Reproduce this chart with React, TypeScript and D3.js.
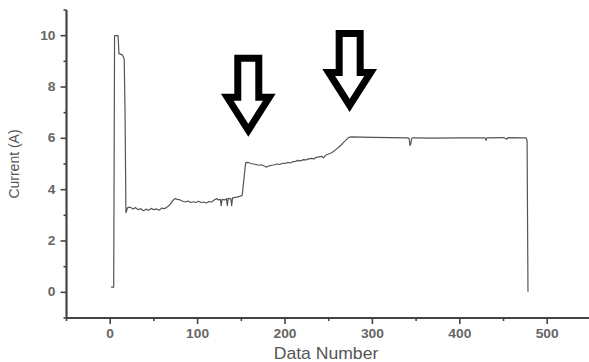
import React from "react";
import { scaleLinear, line, range } from "d3";

// measured trace (data number vs current)
const dataNumber = [
  1, 4, 5, 9, 10, 14, 16, 17, 18, 20, 23, 26, 29, 32, 35, 38, 41, 44, 47, 50,
  53, 56, 59, 62, 65, 68, 71, 74, 77, 80, 83, 86, 89, 92, 95, 98, 101, 104, 107, 110,
  113, 116, 119, 122, 124, 126, 127, 128, 131, 133, 134, 135, 138, 139, 140, 143, 146, 149, 151, 155,
  158, 161, 164, 167, 170, 173, 176, 179, 182, 185, 188, 191, 194, 197, 200, 203, 206, 209, 212, 215,
  218, 221, 224, 227, 230, 233, 236, 239, 242, 244, 246, 249, 252, 255, 258, 261, 264, 267, 270, 273,
  276, 300, 320, 340, 342, 343, 344, 345, 346, 370, 400, 429, 430, 431, 450, 454, 455, 470, 476, 477,
  478,
];
const current = [
  0.2, 0.2, 10.0, 10.0, 9.3, 9.25, 9.1, 7.0, 3.1, 3.3, 3.32, 3.25, 3.3, 3.22, 3.26, 3.18, 3.24, 3.2, 3.27, 3.22,
  3.25, 3.2, 3.28, 3.26, 3.32, 3.4, 3.55, 3.65, 3.62, 3.6, 3.55, 3.52, 3.56, 3.5, 3.53, 3.5, 3.55, 3.5, 3.52, 3.48,
  3.54, 3.52, 3.6, 3.65, 3.6, 3.62, 3.38, 3.62, 3.6, 3.65, 3.38, 3.66, 3.64, 3.38, 3.68, 3.7, 3.72, 3.75, 3.78, 5.05,
  5.06, 5.02, 5.0, 4.98, 4.95, 4.97, 4.92, 4.88, 4.93, 4.95, 4.97, 5.0, 4.98, 5.03, 5.02, 5.06, 5.04, 5.09, 5.1, 5.14,
  5.12, 5.17, 5.16, 5.2, 5.22, 5.2, 5.26, 5.28, 5.3, 5.24, 5.33, 5.38, 5.42, 5.48, 5.56, 5.64, 5.73, 5.84, 5.94, 6.04,
  6.06, 6.04, 6.03, 6.02, 6.0, 5.72, 5.8, 6.0, 6.02, 6.01, 6.02, 6.02, 5.92, 6.02, 6.03, 5.97, 6.03, 6.02, 6.02, 5.9,
  0.02,
];

const xTickLabels = [0, 100, 200, 300, 400, 500];
const yTickLabels = [0, 2, 4, 6, 8, 10];
const xMinorTicks = [-50, 50, 150, 250, 350, 450, 550];
const yMinorTicks = [-1, 1, 3, 5, 7, 9, 11];

// arrow tips in data coordinates
const arrowTipX = [158, 274];
const arrowTipY = [6.08, 7.05];

const W = 589;
const H = 362;
const axisColor = "#444";
const textColor = "#555";

export default function App() {
  const x = scaleLinear().domain([-50, 550]).range([66.5, 590.9]);
  const y = scaleLinear().domain([-1, 11]).range([318, 10]);

  const pts = dataNumber.map((d, i) => [d, current[i]] as [number, number]);
  const path = line<[number, number]>()
    .x((d) => x(d[0]))
    .y((d) => y(d[1]))(pts);

  const arrowShape =
    "M0,-6 L21,-39 L10.5,-39 L10.5,-78 L-10.5,-78 L-10.5,-39 L-21,-39 Z";

  return (
    <svg
      width={W}
      height={H}
      style={{ position: "absolute", left: 0, top: 0, background: "#fff" }}
      fontFamily="'Liberation Sans', Arial, sans-serif"
    >
      <rect width={W} height={H} fill="#fff" />

      {/* y axis */}
      <line x1={x(-50)} x2={x(-50)} y1={y(11)} y2={y(-1)} stroke={axisColor} strokeWidth={2.2} />
      {yTickLabels.map((t) => (
        <g key={"yt" + t}>
          <line x1={x(-50) - 6} x2={x(-50)} y1={y(t)} y2={y(t)} stroke={axisColor} strokeWidth={1.6} />
          <text
            transform={`translate(${x(-50) - 11},${y(t) + 4}) scale(1.15,1)`}
            textAnchor="end"
            fontSize={12}
            fontWeight="bold"
            fill="#666"
          >
            {t}
          </text>
        </g>
      ))}
      {yMinorTicks.map((t) => (
        <line key={"ym" + t} x1={x(-50) - 3} x2={x(-50)} y1={y(t)} y2={y(t)} stroke={axisColor} strokeWidth={1.6} />
      ))}

      {/* x axis */}
      <line x1={x(-50)} x2={W} y1={y(-1)} y2={y(-1)} stroke={axisColor} strokeWidth={2.2} />
      {xTickLabels.map((t) => (
        <g key={"xt" + t}>
          <line x1={x(t)} x2={x(t)} y1={y(-1)} y2={y(-1) + 6} stroke={axisColor} strokeWidth={1.6} />
          <text
            transform={`translate(${x(t)},${y(-1) + 20}) scale(1.15,1)`}
            textAnchor="middle"
            fontSize={12}
            fontWeight="bold"
            fill="#666"
          >
            {t}
          </text>
        </g>
      ))}
      {xMinorTicks.map((t) => (
        <line key={"xm" + t} x1={x(t)} x2={x(t)} y1={y(-1)} y2={y(-1) + 3} stroke={axisColor} strokeWidth={1.6} />
      ))}

      {/* axis titles */}
      <text
        transform={`translate(19,${y(5)}) rotate(-90)`}
        textAnchor="middle"
        fontSize={14}
        fill={textColor}
      >
        Current (A)
      </text>
      <text
        transform={`translate(326,359) scale(1.1,1)`}
        textAnchor="middle"
        fontSize={16}
        fill={textColor}
      >
        Data Number
      </text>

      {/* trace */}
      <path d={path ?? ""} fill="none" stroke="#555" strokeWidth={1.2} strokeLinejoin="round" />

      {/* arrows */}
      {range(arrowTipX.length).map((i) => (
        <path
          key={"arrow" + i}
          d={arrowShape}
          transform={`translate(${x(arrowTipX[i])},${y(arrowTipY[i])})`}
          fill="#fff"
          stroke="#000"
          strokeWidth={7}
          strokeLinejoin="miter"
        />
      ))}
    </svg>
  );
}
